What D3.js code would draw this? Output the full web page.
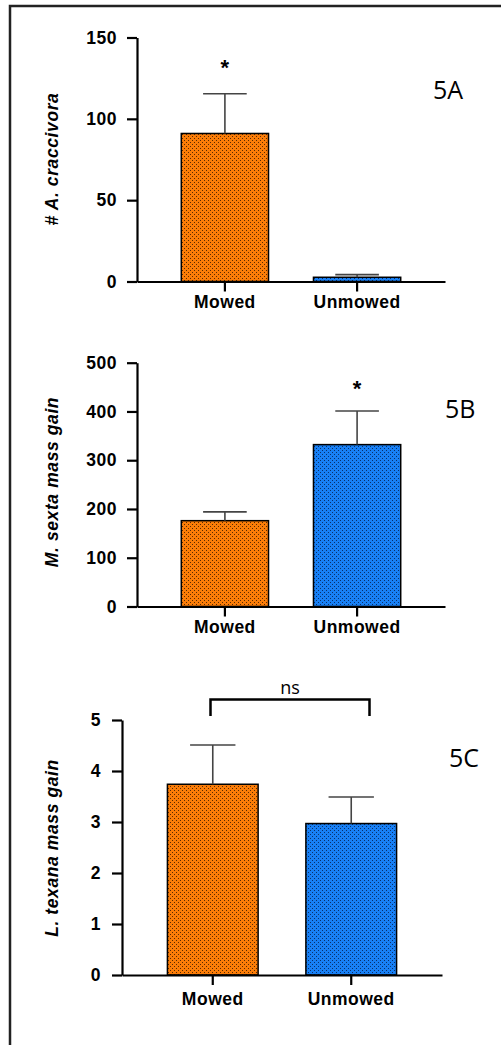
<!DOCTYPE html>
<meta charset="utf-8">
<script src="https://d3js.org/d3.v7.min.js"></script>
<style>
  body { margin: 0; background: #fff; }
  .tick text { font-family: "Liberation Sans", Arial, sans-serif; font-weight: bold; font-size: 17.5px; letter-spacing: 0.5px; fill: #000; }
  .ylab { font-family: "Liberation Sans", Arial, sans-serif; font-weight: bold; font-style: italic; font-size: 17.5px; letter-spacing: 0.6px; }
  .panel { font-family: "Open Sans", sans-serif; font-size: 25px; }
</style>
<div id="screen"></div>
<script>
  // groups and values (mean, standard error)
  var groups = ["Mowed", "Unmowed"];
  var aphidMean = [91, 2.6], aphidErr = [24.4, 1.6];
  var sextaMean = [176, 332], sextaErr = [18, 69];
  var texanaMean = [3.74, 2.97], texanaErr = [0.77, 0.52];
  var aphidTicks = [0, 50, 100, 150];
  var sextaTicks = [0, 100, 200, 300, 400, 500];
  var texanaTicks = [0, 1, 2, 3, 4, 5];
  var colors = ["#fb7d08", "#1880f5"];
  var dotColors = ["#5a2a00", "#08306b"];

  var svg = d3.select("#screen").append("svg")
      .attr("width", 501).attr("height", 1045);

  // dotted fills
  var defs = svg.append("defs");
  colors.forEach(function(c, i) {
    var p = defs.append("pattern").attr("id", "dots" + i)
        .attr("patternUnits", "userSpaceOnUse").attr("width", 4).attr("height", 4);
    p.append("rect").attr("width", 4).attr("height", 4).attr("fill", c);
    p.append("rect").attr("x", 0).attr("y", 0).attr("width", 1).attr("height", 1).attr("fill", dotColors[i]);
    p.append("rect").attr("x", 2).attr("y", 2).attr("width", 1).attr("height", 1).attr("fill", dotColors[i]);
  });

  svg.append("rect").attr("x", 10).attr("y", 6).attr("width", 520).attr("height", 1060)
      .attr("fill", "none").attr("stroke", "#222").attr("stroke-width", 2.5);

  function panel(o) {
    var x = d3.scaleBand().domain(groups).range(o.xr)
        .paddingInner(o.pin).paddingOuter(o.pout);
    var y = d3.scaleLinear().domain([0, d3.max(o.ticks)]).range(o.yr);
    var g = svg.append("g");

    g.selectAll("rect.bar").data(o.mean).join("rect")
        .attr("x", function(d, i) { return x(groups[i]); })
        .attr("width", x.bandwidth())
        .attr("y", function(d) { return y(d); })
        .attr("height", function(d) { return y(0) - y(d); })
        .attr("fill", function(d, i) { return "url(#dots" + i + ")"; })
        .attr("stroke", "#000").attr("stroke-width", 1.5);

    // error bars
    o.mean.forEach(function(m, i) {
      var cx = x(groups[i]) + x.bandwidth() / 2, cw = x.bandwidth() / 4;
      var top = y(m + o.err[i]);
      g.append("line").attr("x1", cx).attr("x2", cx).attr("y1", y(m)).attr("y2", top)
          .attr("stroke", "#444").attr("stroke-width", 1.6);
      g.append("line").attr("x1", cx - cw).attr("x2", cx + cw).attr("y1", top).attr("y2", top)
          .attr("stroke", "#444").attr("stroke-width", 1.6);
    });

    var ya = g.append("g").attr("transform", "translate(" + o.xr[0] + ",0)")
        .call(d3.axisLeft(y).tickValues(o.ticks).tickFormat(d3.format("d"))
          .tickSize(10).tickSizeOuter(0).tickPadding(o.ypad));
    var xa = g.append("g").attr("transform", "translate(0," + o.yr[0] + ")")
        .call(d3.axisBottom(x).tickSize(10).tickSizeOuter(0).tickPadding(o.xpad));
    [ya, xa].forEach(function(a) {
      a.selectAll("path, line").attr("stroke", "#000").attr("stroke-width", 2.2);
    });

    g.append("text").attr("class", "ylab")
        .attr("transform", "translate(" + o.labx + "," + o.laby + ") rotate(-90)")
        .attr("text-anchor", "middle").text(o.label);

    g.append("text").attr("class", "panel").attr("x", o.px).attr("y", o.py).text(o.tag);

    (o.stars || []).forEach(function(i) {
      g.append("text").attr("x", x(groups[i]) + x.bandwidth() / 2).attr("y", o.stary)
          .attr("text-anchor", "middle")
          .style("font-family", "Liberation Sans, Arial, sans-serif")
          .style("font-weight", "bold").style("font-size", "22px").text("*");
    });
    return x;
  }

  panel({ mean: aphidMean, err: aphidErr, ticks: aphidTicks,
          xr: [137, 445], yr: [281.5, 37.5], pin: 0.34, pout: 0.335, ypad: 10, xpad: 4,
          label: "# A. craccivora", labx: 58, laby: 159, tag: "5A", px: 433, py: 99,
          stars: [0], stary: 75 });

  panel({ mean: sextaMean, err: sextaErr, ticks: sextaTicks,
          xr: [137, 445], yr: [606.5, 362.7], pin: 0.34, pout: 0.335, ypad: 10, xpad: 4,
          label: "M. sexta mass gain", labx: 58, laby: 482, tag: "5B", px: 445, py: 418,
          stars: [1], stary: 396 });

  panel({ mean: texanaMean, err: texanaErr, ticks: texanaTicks,
          xr: [122, 442], yr: [975, 720], pin: 0.345, pout: 0.328, ypad: 11, xpad: 8,
          label: "L. texana mass gain", labx: 58, laby: 848, tag: "5C", px: 449, py: 767 });

  // not-significant bracket
  var bx0 = 210.5, bx1 = 369.5;
  svg.append("path")
      .attr("d", d3.line()([[bx0, 716], [bx0, 699.5], [bx1, 699.5], [bx1, 716]]))
      .attr("fill", "none").attr("stroke", "#000").attr("stroke-width", 2.5);
  svg.append("text").attr("x", (bx0 + bx1) / 2).attr("y", 694).attr("text-anchor", "middle")
      .style("font-family", "Open Sans, sans-serif").style("font-size", "18px").text("ns");
</script>
